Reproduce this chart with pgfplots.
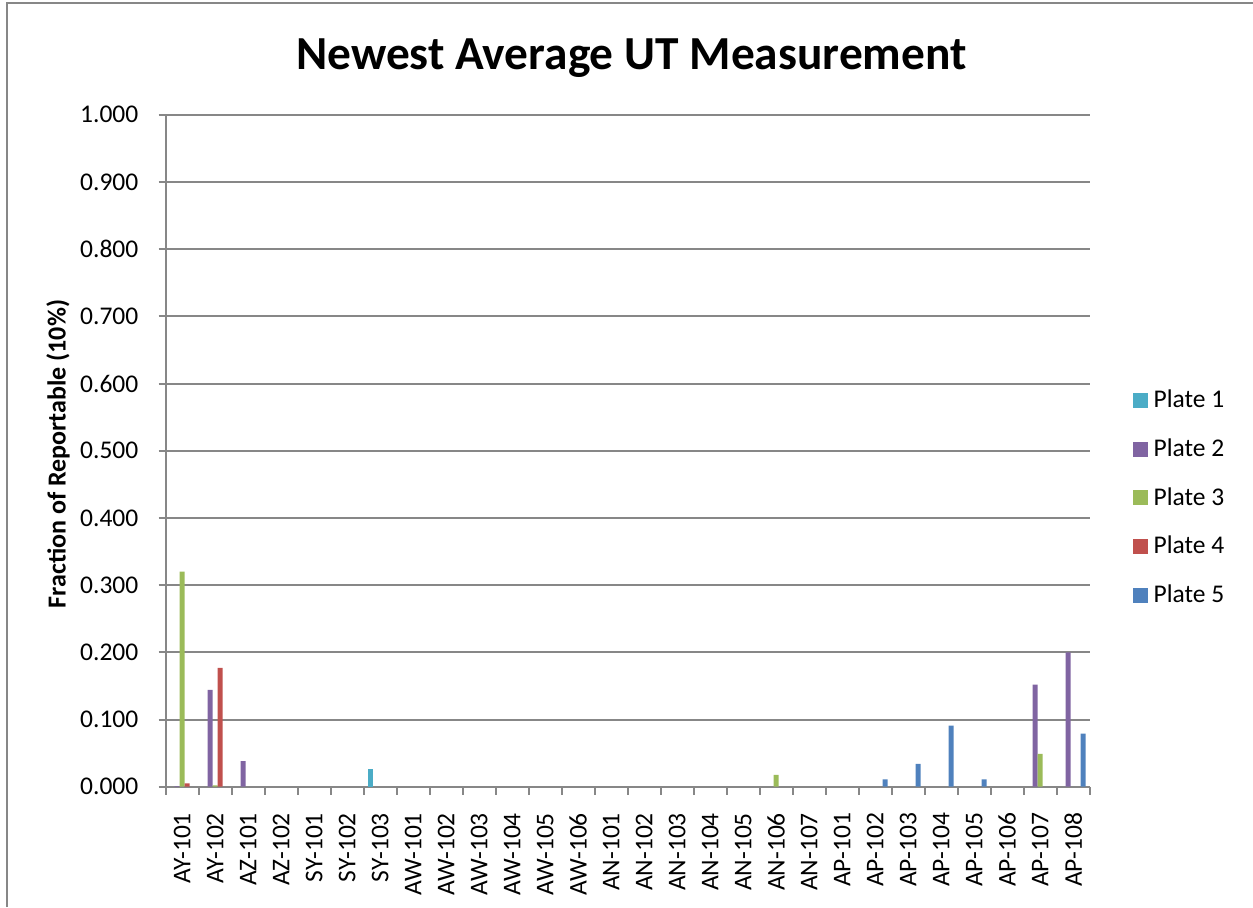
\documentclass[border=0pt]{standalone}
\usepackage{fontspec}
\setmainfont{Carlito}
\usepackage{pgfplots}
\pgfplotsset{compat=1.18}
\definecolor{pone}{HTML}{4BACC6}
\definecolor{ptwo}{HTML}{8064A2}
\definecolor{pthree}{HTML}{9BBB59}
\definecolor{pfour}{HTML}{C0504D}
\definecolor{pfive}{HTML}{4F81BD}
\definecolor{axisgray}{HTML}{878787}
\newcommand{\ticksize}{\fontsize{12.75}{15}\selectfont}
\pgfplotsset{sqleg/.style={legend image code/.code={\fill[##1] (0pt,-3.75pt) rectangle (7.5pt,3.75pt); \path (10.5pt,0pt);}}}
\begin{document}
\begin{tikzpicture}
\useasboundingbox (0,0) rectangle (626.5pt,453.5pt);
\draw[color=axisgray, line width=1pt] (3.5pt,0pt) -- (3.5pt,451.75pt) -- (626.5pt,451.75pt);
\node[anchor=base, font=\fontsize{23.7}{28}\selectfont\bfseries] at (315.75pt,418.5pt) {Newest Average UT Measurement};
\node[rotate=90, font=\fontsize{13}{15}\selectfont\bfseries] at (29pt,226.5pt) {Fraction of Reportable (10\%)};
\begin{axis}[
  at={(82.85pt,60.15pt)}, anchor=south west,
  scale only axis, width=462pt, height=336pt,
  xmin=-0.5, xmax=27.5, ymin=0, ymax=1,
  ybar=0pt, bar width=2.5pt,
  xtick={0,...,27},
  xticklabels={AY-101,AY-102,AZ-101,AZ-102,SY-101,SY-102,SY-103,AW-101,AW-102,AW-103,AW-104,AW-105,AW-106,AN-101,AN-102,AN-103,AN-104,AN-105,AN-106,AN-107,AP-101,AP-102,AP-103,AP-104,AP-105,AP-106,AP-107,AP-108},
  minor xtick={-0.5,0.5,...,27.5},
  major x tick style={draw=none},
  minor tick length=4pt, major tick length=3.5pt, tick align=outside,
  tick style={color=axisgray, line width=1pt},
  ytick={0,0.1,0.2,0.3,0.4,0.5,0.6,0.7,0.8,0.9,1.0},
  y tick label style={/pgf/number format/.cd, fixed, fixed zerofill, precision=3, /tikz/.cd},
  /pgf/number format/assume math mode=true,
  ymajorgrids, grid style={color=axisgray, line width=1pt},
  axis x line*=bottom, axis y line*=left,
  axis line style={color=axisgray, line width=1pt},
  tick label style={font=\ticksize, text=black},
  xticklabel style={rotate=90, anchor=east, inner sep=0pt},
  yticklabel style={anchor=east, inner sep=0pt},
  xticklabel shift=9.5pt, yticklabel shift=10pt,
  legend style={at={(rel axis cs:1.0465,0.43)}, anchor=west, draw=none, fill=none,
    inner sep=0pt, outer sep=0pt, row sep=14pt, font=\ticksize,
    nodes={inner sep=0pt}},
  legend cell align=left,
]
\addplot[fill=pone, draw=none, sqleg] coordinates {(6,0.026)};
\addplot[fill=ptwo, draw=none, sqleg] coordinates {(0,0.001) (1,0.144) (2,0.038) (26,0.152) (27,0.200)};
\addplot[fill=pthree, draw=none, sqleg] coordinates {(0,0.320) (1,0.002) (18,0.0175) (26,0.049)};
\addplot[fill=pfour, draw=none, sqleg] coordinates {(0,0.005) (1,0.177)};
\addplot[fill=pfive, draw=none, sqleg] coordinates {(21,0.011) (22,0.034) (23,0.091) (24,0.011) (27,0.079)};
\legend{Plate 1,Plate 2,Plate 3,Plate 4,Plate 5}
\end{axis}
\end{tikzpicture}
\end{document}
